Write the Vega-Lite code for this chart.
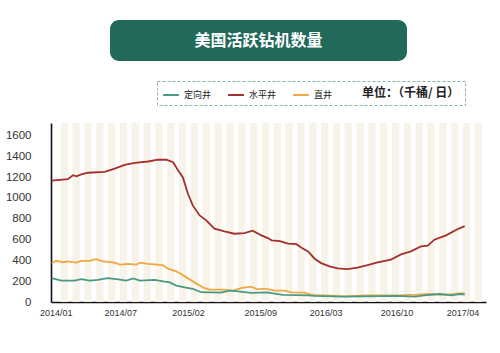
{
  "$schema": "https://vega.github.io/schema/vega-lite/v6.json",
  "width": 435,
  "height": 179,
  "autosize": {"type": "none"},
  "padding": {"left": 51, "top": 123, "right": 14, "bottom": 51},
  "background": "white",
  "config": {"view": {"stroke": null}, "font": "Liberation Sans"},
  "resolve": {"scale": {"x": "independent"}},
  "layer": [
    {
      "data": {"values": [{"k": 1}, {"k": 2}, {"k": 3}, {"k": 4}, {"k": 5}, {"k": 6}, {"k": 7}, {"k": 8}, {"k": 9}, {"k": 10}, {"k": 11}, {"k": 12}, {"k": 13}, {"k": 14}, {"k": 15}, {"k": 16}, {"k": 17}, {"k": 18}, {"k": 19}, {"k": 20}, {"k": 21}, {"k": 22}, {"k": 23}, {"k": 24}, {"k": 25}, {"k": 26}, {"k": 27}, {"k": 28}, {"k": 29}, {"k": 30}, {"k": 31}, {"k": 32}, {"k": 33}, {"k": 34}, {"k": 35}, {"k": 36}]},
      "mark": {"type": "rect", "color": "#f8f3e8"},
      "encoding": {
        "x": {"field": "k", "type": "ordinal", "axis": null,
              "scale": {"type": "band", "paddingInner": 0.383, "paddingOuter": 0.577, "align": 0.71}}
      }
    },
    {
      "data": {"values": [
        {"date": "2014-01-03", "type": "水平井", "value": 1166},
        {"date": "2014-02-19", "type": "水平井", "value": 1180},
        {"date": "2014-03-06", "type": "水平井", "value": 1218},
        {"date": "2014-03-16", "type": "水平井", "value": 1208},
        {"date": "2014-03-30", "type": "水平井", "value": 1226},
        {"date": "2014-04-18", "type": "水平井", "value": 1242},
        {"date": "2014-06-06", "type": "水平井", "value": 1250},
        {"date": "2014-07-05", "type": "水平井", "value": 1281},
        {"date": "2014-08-03", "type": "水平井", "value": 1318},
        {"date": "2014-09-02", "type": "水平井", "value": 1336},
        {"date": "2014-10-10", "type": "水平井", "value": 1350},
        {"date": "2014-11-08", "type": "水平井", "value": 1368},
        {"date": "2014-12-02", "type": "水平井", "value": 1367},
        {"date": "2014-12-22", "type": "水平井", "value": 1343},
        {"date": "2015-01-05", "type": "水平井", "value": 1266},
        {"date": "2015-01-19", "type": "水平井", "value": 1200},
        {"date": "2015-02-03", "type": "水平井", "value": 1040},
        {"date": "2015-02-17", "type": "水平井", "value": 928},
        {"date": "2015-03-09", "type": "水平井", "value": 832},
        {"date": "2015-03-28", "type": "水平井", "value": 785},
        {"date": "2015-04-21", "type": "水平井", "value": 704},
        {"date": "2015-05-20", "type": "水平井", "value": 678},
        {"date": "2015-06-18", "type": "水平井", "value": 656},
        {"date": "2015-07-17", "type": "水平井", "value": 662},
        {"date": "2015-08-10", "type": "水平井", "value": 685},
        {"date": "2015-09-04", "type": "水平井", "value": 640},
        {"date": "2015-09-23", "type": "水平井", "value": 614},
        {"date": "2015-10-04", "type": "水平井", "value": 592},
        {"date": "2015-10-28", "type": "水平井", "value": 585},
        {"date": "2015-11-21", "type": "水平井", "value": 560},
        {"date": "2015-12-15", "type": "水平井", "value": 556},
        {"date": "2015-12-30", "type": "水平井", "value": 522},
        {"date": "2016-01-18", "type": "水平井", "value": 486},
        {"date": "2016-02-06", "type": "水平井", "value": 416},
        {"date": "2016-02-25", "type": "水平井", "value": 374},
        {"date": "2016-03-20", "type": "水平井", "value": 342},
        {"date": "2016-04-13", "type": "水平井", "value": 323},
        {"date": "2016-05-12", "type": "水平井", "value": 316},
        {"date": "2016-06-10", "type": "水平井", "value": 330},
        {"date": "2016-07-09", "type": "水平井", "value": 355},
        {"date": "2016-08-07", "type": "水平井", "value": 381},
        {"date": "2016-09-15", "type": "水平井", "value": 407},
        {"date": "2016-10-14", "type": "水平井", "value": 458},
        {"date": "2016-11-12", "type": "水平井", "value": 486},
        {"date": "2016-12-11", "type": "水平井", "value": 534},
        {"date": "2016-12-31", "type": "水平井", "value": 541},
        {"date": "2017-01-19", "type": "水平井", "value": 599},
        {"date": "2017-02-22", "type": "水平井", "value": 640},
        {"date": "2017-03-24", "type": "水平井", "value": 694},
        {"date": "2017-04-17", "type": "水平井", "value": 729},
        {"date": "2014-01-03", "type": "直井", "value": 372},
        {"date": "2014-01-16", "type": "直井", "value": 396},
        {"date": "2014-02-05", "type": "直井", "value": 382},
        {"date": "2014-02-19", "type": "直井", "value": 390},
        {"date": "2014-03-16", "type": "直井", "value": 378},
        {"date": "2014-03-30", "type": "直井", "value": 396},
        {"date": "2014-04-23", "type": "直井", "value": 396},
        {"date": "2014-05-12", "type": "直井", "value": 412},
        {"date": "2014-06-01", "type": "直井", "value": 390},
        {"date": "2014-07-05", "type": "直井", "value": 378},
        {"date": "2014-07-20", "type": "直井", "value": 360},
        {"date": "2014-08-13", "type": "直井", "value": 366},
        {"date": "2014-09-06", "type": "直井", "value": 360},
        {"date": "2014-09-16", "type": "直井", "value": 378},
        {"date": "2014-10-10", "type": "直井", "value": 366},
        {"date": "2014-11-08", "type": "直井", "value": 360},
        {"date": "2014-11-23", "type": "直井", "value": 352},
        {"date": "2014-12-07", "type": "直井", "value": 320},
        {"date": "2014-12-31", "type": "直井", "value": 294},
        {"date": "2015-01-14", "type": "直井", "value": 269},
        {"date": "2015-02-03", "type": "直井", "value": 227},
        {"date": "2015-02-27", "type": "直井", "value": 179},
        {"date": "2015-03-18", "type": "直井", "value": 141},
        {"date": "2015-04-07", "type": "直井", "value": 119},
        {"date": "2015-05-20", "type": "直井", "value": 119},
        {"date": "2015-06-13", "type": "直井", "value": 109},
        {"date": "2015-07-07", "type": "直井", "value": 134},
        {"date": "2015-08-05", "type": "直井", "value": 147},
        {"date": "2015-08-25", "type": "直井", "value": 122},
        {"date": "2015-09-14", "type": "直井", "value": 129},
        {"date": "2015-10-13", "type": "直井", "value": 109},
        {"date": "2015-11-11", "type": "直井", "value": 109},
        {"date": "2015-12-01", "type": "直井", "value": 93},
        {"date": "2016-01-08", "type": "直井", "value": 90},
        {"date": "2016-01-28", "type": "直井", "value": 68},
        {"date": "2016-03-25", "type": "直井", "value": 61},
        {"date": "2016-05-03", "type": "直井", "value": 54},
        {"date": "2016-06-30", "type": "直井", "value": 64},
        {"date": "2016-10-04", "type": "直井", "value": 64},
        {"date": "2016-12-02", "type": "直井", "value": 71},
        {"date": "2016-12-31", "type": "直井", "value": 77},
        {"date": "2017-02-17", "type": "直井", "value": 71},
        {"date": "2017-03-19", "type": "直井", "value": 77},
        {"date": "2017-04-17", "type": "直井", "value": 86},
        {"date": "2014-01-03", "type": "定向井", "value": 230},
        {"date": "2014-01-31", "type": "定向井", "value": 205},
        {"date": "2014-03-11", "type": "定向井", "value": 205},
        {"date": "2014-03-30", "type": "定向井", "value": 220},
        {"date": "2014-04-23", "type": "定向井", "value": 205},
        {"date": "2014-05-17", "type": "定向井", "value": 212},
        {"date": "2014-06-15", "type": "定向井", "value": 230},
        {"date": "2014-07-15", "type": "定向井", "value": 218},
        {"date": "2014-08-08", "type": "定向井", "value": 205},
        {"date": "2014-08-28", "type": "定向井", "value": 226},
        {"date": "2014-09-16", "type": "定向井", "value": 205},
        {"date": "2014-10-29", "type": "定向井", "value": 212},
        {"date": "2014-11-23", "type": "定向井", "value": 198},
        {"date": "2014-12-12", "type": "定向井", "value": 189},
        {"date": "2014-12-31", "type": "定向井", "value": 157},
        {"date": "2015-01-24", "type": "定向井", "value": 141},
        {"date": "2015-02-17", "type": "定向井", "value": 125},
        {"date": "2015-03-13", "type": "定向井", "value": 94},
        {"date": "2015-05-10", "type": "定向井", "value": 91},
        {"date": "2015-06-04", "type": "定向井", "value": 109},
        {"date": "2015-06-28", "type": "定向井", "value": 102},
        {"date": "2015-08-05", "type": "定向井", "value": 87},
        {"date": "2015-09-23", "type": "定向井", "value": 93},
        {"date": "2015-10-08", "type": "定向井", "value": 83},
        {"date": "2015-11-06", "type": "定向井", "value": 69},
        {"date": "2016-01-18", "type": "定向井", "value": 64},
        {"date": "2016-02-06", "type": "定向井", "value": 58},
        {"date": "2016-04-23", "type": "定向井", "value": 51},
        {"date": "2016-06-30", "type": "定向井", "value": 54},
        {"date": "2016-10-04", "type": "定向井", "value": 58},
        {"date": "2016-11-22", "type": "定向井", "value": 51},
        {"date": "2016-12-21", "type": "定向井", "value": 64},
        {"date": "2017-02-03", "type": "定向井", "value": 77},
        {"date": "2017-03-09", "type": "定向井", "value": 64},
        {"date": "2017-04-02", "type": "定向井", "value": 77},
        {"date": "2017-04-17", "type": "定向井", "value": 71}
      ]},
      "mark": {"type": "line", "strokeWidth": 1.8},
      "encoding": {
        "x": {"field": "date", "type": "temporal",
              "scale": {"type": "utc", "domain": [{"year": 2014, "month": 1, "date": 1, "utc": true}, {"year": 2017, "month": 6, "date": 18, "utc": true}]},
              "axis": {"title": null, "format": "%Y/%m", "grid": false, "ticks": false,
                       "values": [
                         {"year": 2014, "month": 1, "date": 15, "utc": true},
                         {"year": 2014, "month": 7, "date": 21, "utc": true},
                         {"year": 2015, "month": 2, "date": 3, "utc": true},
                         {"year": 2015, "month": 9, "date": 1, "utc": true},
                         {"year": 2016, "month": 3, "date": 9, "utc": true},
                         {"year": 2016, "month": 10, "date": 1, "utc": true},
                         {"year": 2017, "month": 4, "date": 11, "utc": true}],
                       "labelFontSize": 9, "labelColor": "#333333", "labelFont": "Liberation Sans",
                       "labelPadding": 6, "domainColor": "#111111", "domainWidth": 1.6, "labelFlush": false, "labelOverlap": false}},
        "y": {"field": "value", "type": "quantitative",
              "scale": {"domain": [0, 1720], "nice": false},
              "axis": {"title": null, "format": "d", "values": [0, 200, 400, 600, 800, 1000, 1200, 1400, 1600], "grid": false, "ticks": false,
                       "labelFontSize": 11.5, "labelColor": "#333333", "labelFont": "Liberation Sans",
                       "labelPadding": 20, "domainColor": "#111111", "domainWidth": 1.6, "labelFlush": false}},
        "color": {"field": "type", "type": "nominal",
                  "scale": {"domain": ["定向井", "水平井", "直井"], "range": ["#4a9984", "#a3302c", "#f0a842"]},
                  "legend": {"orient": "none", "legendX": 106, "legendY": -42, "direction": "horizontal",
                             "title": "单位：（千桶/ 日）", "titleOrient": "right", "titleFontSize": 12,
                             "titleFont": "Noto Sans CJK SC", "titleFontWeight": "bold", "titleColor": "#222222", "titlePadding": 30,
                             "titleBaseline": "middle",
                             "labelFont": "Noto Sans CJK SC", "labelFontSize": 9, "labelColor": "#222222",
                             "symbolType": "stroke", "symbolStrokeWidth": 2, "symbolSize": 250, "columnPadding": 12,
                             "padding": 5, "strokeColor": "#8fb0a6", "cornerRadius": 0,
                             "encode": {"legend": {"update": {"strokeDash": {"value": [3, 2]}}}}}}
      }
    },
    {
      "data": {"values": [{"label": "美国活跃钻机数量"}]},
      "mark": {"type": "rect", "color": "#21695a", "cornerRadius": 9},
      "encoding": {
        "x": {"value": 59}, "x2": {"value": 356},
        "y": {"value": -103}, "y2": {"value": -62}
      }
    },
    {
      "data": {"values": [{"label": "美国活跃钻机数量"}]},
      "mark": {"type": "text", "color": "white", "fontSize": 16, "fontWeight": "bold", "font": "Noto Sans CJK SC", "align": "center", "baseline": "middle"},
      "encoding": {
        "x": {"value": 207.5}, "y": {"value": -82},
        "text": {"field": "label"}
      }
    }
  ]
}
